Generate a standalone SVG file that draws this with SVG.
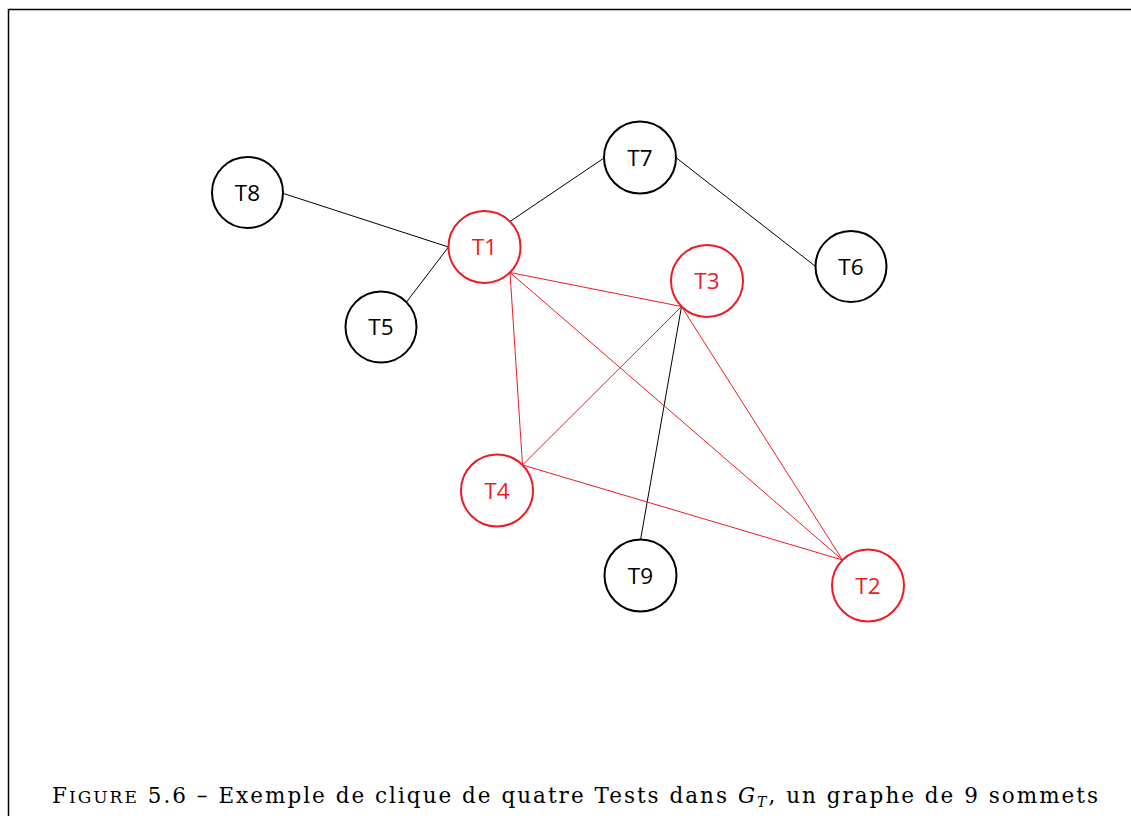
<svg xmlns="http://www.w3.org/2000/svg" width="1131" height="816" viewBox="0 0 1131 816">
<style>
.n circle{fill:#fff;stroke-width:2}
.b circle{stroke:#000}
.r circle{stroke:#ED1C24}
.n text{font-family:"Open Sans","Liberation Sans",sans-serif;font-size:22.5px;text-anchor:middle}
.b text{fill:#000}
.r text{fill:#ED1C24}
.e line{stroke-width:1}
.e .k{stroke:#000}
.e .red{stroke:#ED1C24}
.cap{font-family:"DejaVu Serif","Liberation Serif",serif;font-size:21.5px;fill:#000}
</style>
<rect width="1131" height="816" fill="#fff"/>
<path d="M8.5,816 V9.5 H1131" fill="none" stroke="#000" stroke-width="1.5"/>
<g id="connectors" class="e">
<line class="k" x1="283.5" y1="193.5" x2="448.5" y2="247"/>
<line class="k" x1="448.5" y1="247" x2="406.5" y2="302"/>
<line class="k" x1="510" y1="221.5" x2="604" y2="158"/>
<line class="k" x1="676.5" y1="158" x2="815" y2="266"/>
<line class="k" x1="681.5" y1="306.5" x2="640.5" y2="540"/>
<line class="red" x1="510" y1="272.5" x2="681.5" y2="306.5"/>
<line class="red" x1="510" y1="272.5" x2="522.5" y2="465"/>
<line class="red" x1="510" y1="272.5" x2="842.5" y2="560"/>
<line class="red" x1="681.5" y1="306.5" x2="522.5" y2="465"/>
<line class="red" x1="681.5" y1="306.5" x2="842.5" y2="560"/>
<line class="red" x1="522.5" y1="465" x2="842.5" y2="560"/>
</g>
<g id="T8" class="n b"><circle cx="247.5" cy="192.5" r="35.5"/><text x="247.5" y="200.5">T8</text></g>
<g id="T7" class="n b"><circle cx="640" cy="157.5" r="36"/><text x="640" y="165.5">T7</text></g>
<g id="T1" class="n r"><circle cx="484.5" cy="247" r="36"/><text x="484.5" y="255">T1</text></g>
<g id="T3" class="n r"><circle cx="707" cy="281" r="36"/><text x="707" y="289">T3</text></g>
<g id="T6" class="n b"><circle cx="851" cy="266.5" r="35.5"/><text x="851" y="274.5">T6</text></g>
<g id="T5" class="n b"><circle cx="381" cy="327" r="35.5"/><text x="381" y="335">T5</text></g>
<g id="T4" class="n r"><circle cx="497" cy="490.5" r="36"/><text x="497" y="498.5">T4</text></g>
<g id="T9" class="n b"><circle cx="640.5" cy="575.5" r="36"/><text x="640.5" y="583.5">T9</text></g>
<g id="T2" class="n r"><circle cx="868" cy="585.5" r="36"/><text x="868" y="593.5">T2</text></g>
<text class="cap" x="52" y="803" textLength="1046" lengthAdjust="spacing">F<tspan font-size="17">IGURE</tspan> 5.6 – Exemple de clique de quatre Tests dans <tspan font-style="italic">G</tspan><tspan font-style="italic" font-size="14" dy="4">T</tspan><tspan dy="-4">, un graphe de 9 sommets</tspan></text>
</svg>
